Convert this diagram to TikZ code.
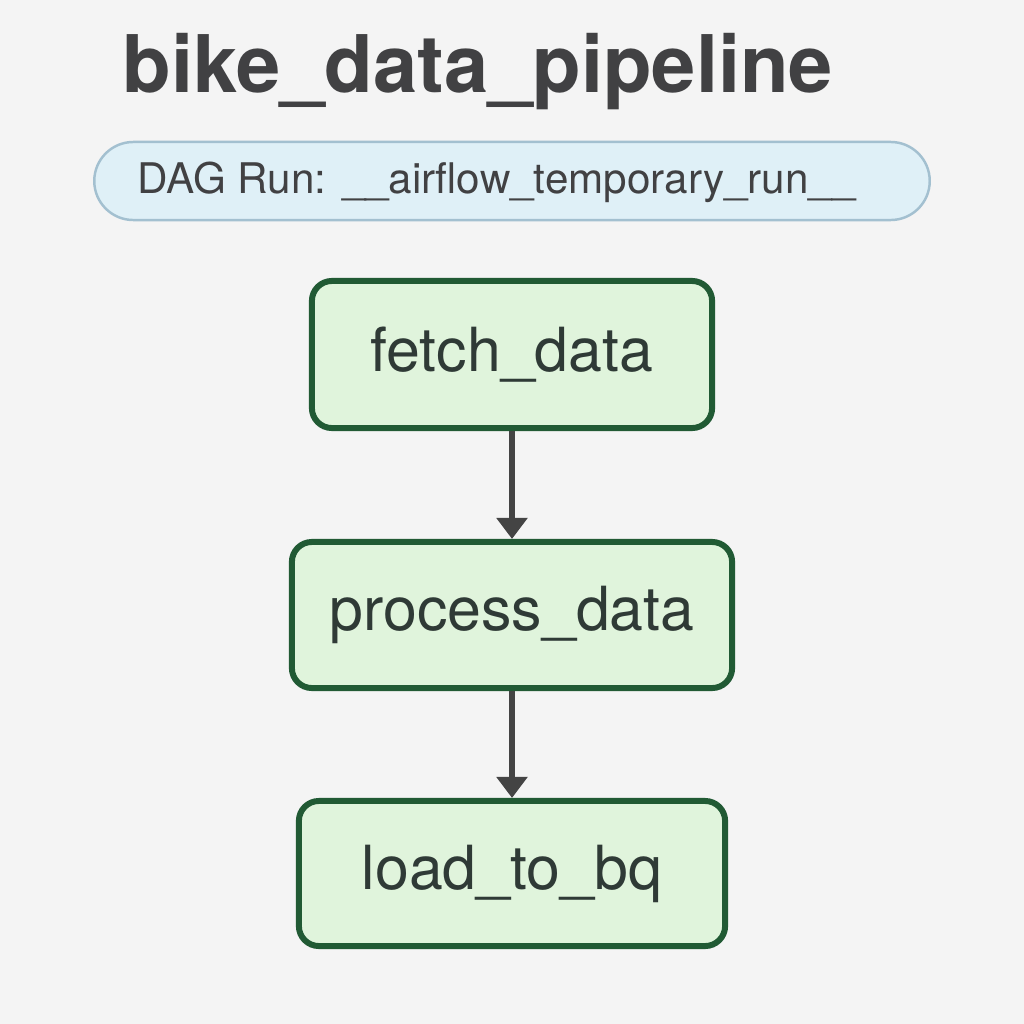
\documentclass[tikz,border=0pt]{standalone}
\usepackage{fontspec}
\setmainfont{TeX Gyre Heros}
\usetikzlibrary{arrows.meta}
\definecolor{bgcol}{HTML}{F4F4F4}
\definecolor{titlecol}{HTML}{414143}
\definecolor{runfill}{HTML}{DFF0F7}
\definecolor{rundraw}{HTML}{A3C0D0}
\definecolor{taskfill}{HTML}{E0F4DC}
\definecolor{taskdraw}{HTML}{215A34}
\definecolor{taskText}{HTML}{2F3A36}
\definecolor{arrowcol}{HTML}{444444}
\begin{document}
\begin{tikzpicture}[x=0.01cm,y=-0.01cm]

      \fill[bgcol] (0,0) rectangle (1024,1024);
      \useasboundingbox (0,0) rectangle (1024,1024);

      \node[anchor=base west, inner sep=0pt, text=titlecol,
        font=\fontsize{22.6}{26}\selectfont\bfseries] (title) at (122,92) {bike\_data\_pipeline};

      \node[draw=rundraw, fill=runfill, line width=0.7pt, rounded corners=0.39cm,
        minimum width=8.35cm, minimum height=0.78cm] (run) at (512,181) {};
      \node[anchor=west, inner sep=0pt, text=titlecol,
        font=\fontsize{12}{14}\selectfont] (runlabel) at (137,182) {DAG Run: \_\_airflow\_temporary\_run\_\_};

      \begin{scope}[every node/.style={draw=taskdraw, fill=taskfill, line width=1.7pt,
          rounded corners=0.2cm, text=taskText, font=\fontsize{17.3}{20}\selectfont}]
        \node[minimum width=4cm, minimum height=1.47cm] (fetch)   at (512,354.5) {fetch\_data};
        \node[minimum width=4.4cm, minimum height=1.46cm] (process) at (512,615) {process\_data};
        \node[minimum width=4.26cm, minimum height=1.45cm] (load)    at (512,873.5) {load\_to\_bq};
      \end{scope}

      \begin{scope}[every edge/.style={draw=arrowcol, line width=1.8pt,
          -{Triangle[length=0.21cm, width=0.3cm]}}]
        \path (fetch)   edge (process);
        \path (process) edge (load);
      \end{scope}

    \end{tikzpicture}
\end{document}
